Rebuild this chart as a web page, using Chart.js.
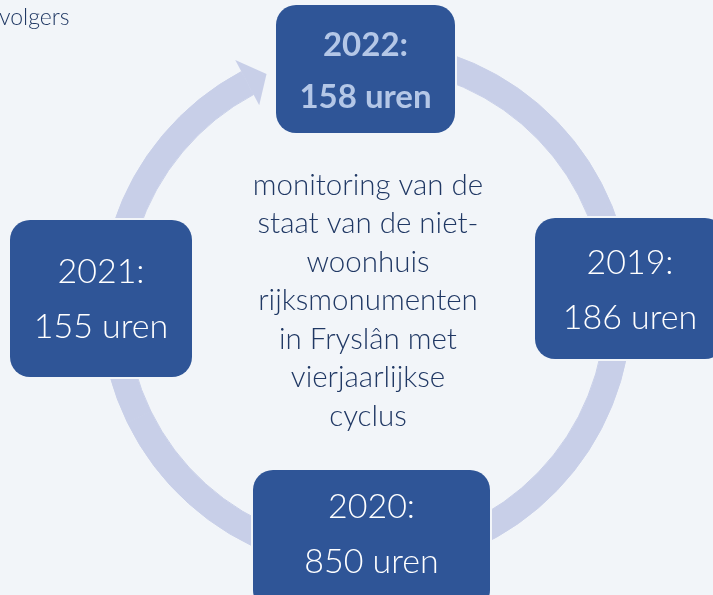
<!DOCTYPE html>
<html>
<head>
<meta charset="utf-8">
<script src="https://cdn.jsdelivr.net/npm/chart.js@4/dist/chart.umd.min.js"></script>
<style>
  html, body { margin: 0; padding: 0; background: #f2f5f9; overflow: hidden; }
  #wrap { position: relative; width: 713px; height: 595px; }
</style>
</head>
<body>
<div id="wrap"><canvas id="cycle"></canvas></div>
<script>
// cycle phases (clockwise from the top)
const years = ["2022:", "2019:", "2020:", "2021:"];
const hours = ["158 uren", "186 uren", "850 uren", "155 uren"];
const phaseWeights = [1, 1, 1, 1];
const centerLines = [
  "monitoring van de",
  "staat van de niet-",
  "woonhuis",
  "rijksmonumenten",
  "in Fryslân met",
  "vierjaarlijkse",
  "cyclus",
];
const cornerText = "volgers";

const colors = {
  bg: "#f2f5f9",
  ring: "#c8cfe8",
  box: "#2f5597",
  boxText: "#ffffff",
  boxTextFirst: "#b4c7e7",
  center: "#203864",
};

// box rectangles in pixels (layout only)
const boxes = [
  { x: 276, y: 5, w: 179, h: 128, ty: [45, 97], bold: true },
  { x: 535, y: 218, w: 190, h: 141, ty: [263, 318] },
  { x: 253, y: 470, w: 237, h: 140, ty: [507, 562] },
  { x: 10, y: 220, w: 182, h: 157, ty: [272, 327] },
];

const FONT = "Lato, 'Open Sans', sans-serif";

function roundRect(ctx, x, y, w, h, r) {
  ctx.beginPath();
  ctx.moveTo(x + r, y);
  ctx.arcTo(x + w, y, x + w, y + h, r);
  ctx.arcTo(x + w, y + h, x, y + h, r);
  ctx.arcTo(x, y + h, x, y, r);
  ctx.arcTo(x, y, x + w, y, r);
  ctx.closePath();
}

const cyclePlugin = {
  id: "cycle",
  afterDatasetsDraw(chart) {
    const ctx = chart.ctx;
    const arcs = chart.getDatasetMeta(0).data;
    const last = arcs[arcs.length - 1];
    const cx = last.x, cy = last.y;
    const rOut = last.outerRadius, rIn = last.innerRadius;
    const rMid = (rOut + rIn) / 2;

    // arrow head at the end of the ring
    const a0 = last.endAngle;
    const a1 = a0 + (4.8 * Math.PI) / 180;
    ctx.save();
    ctx.fillStyle = colors.ring;
    ctx.beginPath();
    ctx.moveTo(cx + (rOut + 13) * Math.cos(a0), cy + (rOut + 13) * Math.sin(a0));
    ctx.lineTo(cx + rMid * Math.cos(a1), cy + rMid * Math.sin(a1));
    ctx.lineTo(cx + (rIn - 12) * Math.cos(a0), cy + (rIn - 12) * Math.sin(a0));
    ctx.closePath();
    ctx.fill();

    // boxes
    boxes.forEach((b, i) => {
      ctx.fillStyle = colors.bg;
      roundRect(ctx, b.x - 2, b.y - 2, b.w + 4, b.h + 4, 22);
      ctx.fill();
      ctx.fillStyle = colors.box;
      roundRect(ctx, b.x, b.y, b.w, b.h, 20);
      ctx.fill();
      ctx.textAlign = "center";
      ctx.textBaseline = "middle";
      ctx.fillStyle = b.bold ? colors.boxTextFirst : colors.boxText;
      ctx.font = (b.bold ? "bold 33px " : "300 34px ") + FONT;
      const mx = b.x + b.w / 2;
      ctx.fillText(years[i], mx, b.ty[0]);
      ctx.fillText(hours[i], mx, b.ty[1]);
    });

    // center text
    ctx.fillStyle = colors.center;
    ctx.font = "300 29.5px " + FONT;
    const lh = 38.5;
    const top = cy - 5.5 - ((centerLines.length - 1) / 2) * lh;
    centerLines.forEach((t, i) => ctx.fillText(t, cx + 2, top + i * lh));

    ctx.textAlign = "left";
    ctx.font = "300 23px " + FONT;
    ctx.fillText(cornerText, -1, 18);
    ctx.restore();
  },
};

new Chart(document.getElementById("cycle"), {
  type: "doughnut",
  data: {
    labels: years,
    datasets: [
      {
        data: phaseWeights,
        backgroundColor: colors.ring,
        borderColor: colors.ring,
        borderWidth: 1,
        hoverOffset: 0,
      },
    ],
  },
  options: {
    responsive: true,
    maintainAspectRatio: false,
    animation: false,
    rotation: -20,
    circumference: 352,
    cutout: "90.2%",
    layout: { padding: { left: 100, right: 81, top: 40, bottom: 23 } },
    plugins: { legend: { display: false }, tooltip: { enabled: false } },
  },
  plugins: [cyclePlugin],
});
</script>
</body>
</html>
